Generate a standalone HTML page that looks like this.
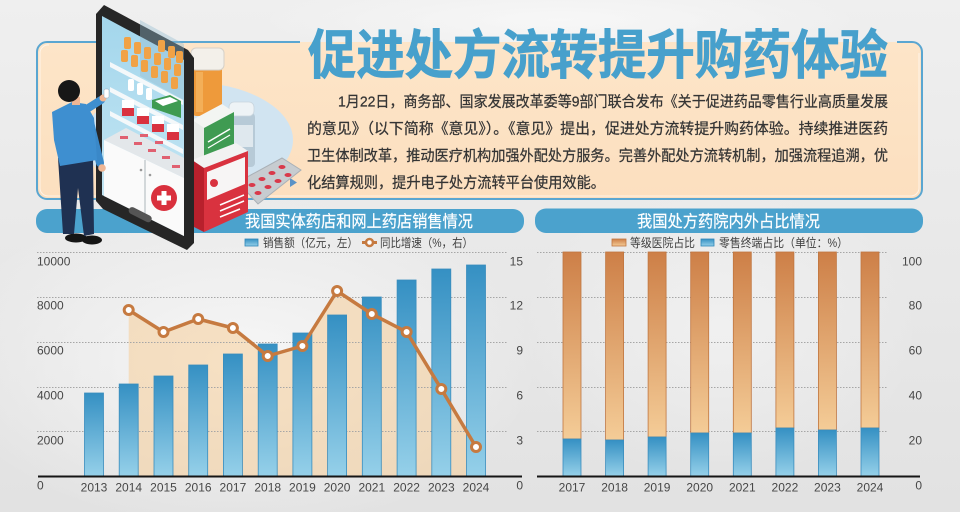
<!DOCTYPE html>
<html><head><meta charset="utf-8">
<style>
html,body{margin:0;padding:0;width:960px;height:512px;overflow:hidden;background:#e8e8e8;}
svg{display:block;}
.cn{font-family:"Liberation Sans","Noto Sans CJK SC",sans-serif;}
.num{font-family:"Liberation Sans",sans-serif;font-size:12px;fill:#474747;}
</style></head><body>
<svg width="960" height="512" viewBox="0 0 960 512" xmlns="http://www.w3.org/2000/svg">
<defs>
 <linearGradient id="bg" x1="0" y1="0" x2="0" y2="1">
   <stop offset="0" stop-color="#efefef"/>
   <stop offset="1" stop-color="#e2e2e2"/>
 </linearGradient>
 <radialGradient id="glow2" cx="0.5" cy="0.5" r="0.5">
   <stop offset="0" stop-color="#f8f8f8" stop-opacity="0.9"/>
   <stop offset="1" stop-color="#f8f8f8" stop-opacity="0"/>
 </radialGradient>
 <linearGradient id="peach" x1="0" y1="0" x2="0" y2="1">
   <stop offset="0" stop-color="#fde5c8"/>
   <stop offset="1" stop-color="#fcdfbf"/>
 </linearGradient>
 <linearGradient id="blueBar" x1="0" y1="0" x2="0" y2="1">
   <stop offset="0" stop-color="#3590c3"/>
   <stop offset="1" stop-color="#95d0e9"/>
 </linearGradient>
 <linearGradient id="orangeBar" x1="0" y1="0" x2="0" y2="1">
   <stop offset="0" stop-color="#cd7f47"/>
   <stop offset="1" stop-color="#f4cc97"/>
 </linearGradient>
 <linearGradient id="screen" x1="0" y1="0" x2="0" y2="1">
   <stop offset="0" stop-color="#a3d6ec"/>
   <stop offset="1" stop-color="#c9e8f4"/>
 </linearGradient>
</defs>

<!-- background -->
<rect x="0" y="0" width="960" height="512" fill="url(#bg)"/>
<ellipse cx="240" cy="360" rx="300" ry="170" fill="url(#glow2)"/>
<ellipse cx="560" cy="20" rx="300" ry="40" fill="url(#glow2)"/>
<ellipse cx="720" cy="330" rx="200" ry="150" fill="url(#glow2)" opacity="0.6"/>

<!-- top box -->
<rect x="37" y="42" width="885" height="157" rx="10" fill="url(#peach)"/>
<path d="M300,42 L47,42 A10,10 0 0 0 37,52 L37,189 A10,10 0 0 0 47,199 L912,199 A10,10 0 0 0 922,189 L922,52 A10,10 0 0 0 912,42 L897,42" fill="none" stroke="#5aa6d1" stroke-width="2"/>
<path d="M49,45 A8,8 0 0 0 40,53 L40,188 A8,8 0 0 0 48,196 L911,196 A8,8 0 0 0 919,188 L919,53" fill="none" stroke="#ffffff" stroke-width="1" opacity="0.6"/>

<!-- title -->
<text class="cn" x="308" y="73.5" font-size="53" font-weight="bold" fill="#47a0cc" stroke="#47a0cc" stroke-width="0.8" textLength="580" lengthAdjust="spacingAndGlyphs">促进处方流转提升购药体验</text>

<!-- paragraph -->
<g class="cn" font-size="15" fill="#353535" stroke="#353535" stroke-width="0.25">
<text x="338" y="106.5" textLength="550" lengthAdjust="spacingAndGlyphs">1月22日，商务部、国家发展改革委等9部门联合发布《关于促进药品零售行业高质量发展</text>
<text x="307" y="133.5" textLength="581" lengthAdjust="spacingAndGlyphs">的意见》（以下简称《意见》）。《意见》提出，促进处方流转提升购药体验。持续推进医药</text>
<text x="307" y="160.5" textLength="581" lengthAdjust="spacingAndGlyphs">卫生体制改革，推动医疗机构加强外配处方服务。完善外配处方流转机制，加强流程追溯，优</text>
<text x="307" y="187.5" textLength="298" lengthAdjust="spacingAndGlyphs">化结算规则，提升电子处方流转平台使用效能。</text>
</g>
<path d="M290,178 L297,182.5 L290,187 Z" fill="#5a92c6"/>

<!-- chart header bars -->
<rect x="36" y="209" width="488" height="24" rx="11" fill="#4ba2cd"/>
<rect x="535" y="208.5" width="388" height="24.5" rx="11" fill="#4ba2cd"/>
<text class="cn" x="245" y="227" font-size="16.5" fill="#ffffff" stroke="#ffffff" stroke-width="0.2" textLength="228" lengthAdjust="spacingAndGlyphs">我国实体药店和网上药店销售情况</text>
<text class="cn" x="637" y="227" font-size="16.5" fill="#ffffff" stroke="#ffffff" stroke-width="0.2" textLength="183" lengthAdjust="spacingAndGlyphs">我国处方药院内外占比情况</text>

<!-- illustration -->
<ellipse cx="188" cy="140" rx="105" ry="58" fill="#d1e4f1"/>
<!-- orange bottle -->
<rect x="193" y="66" width="29" height="50" rx="3" fill="#ee9a3b"/>
<rect x="196" y="72" width="7" height="40" fill="#f5b865" opacity="0.7"/>
<rect x="191" y="48" width="33" height="22" rx="5" fill="#f3f0ea" stroke="#d5d0c8" stroke-width="1"/>
<!-- small bottle -->
<rect x="228" y="113" width="27" height="54" rx="4" fill="#b7cad7"/>
<rect x="229" y="102" width="25" height="14" rx="5" fill="#eef3f6" stroke="#c9d5de" stroke-width="0.8"/>
<rect x="231" y="125" width="22" height="22" fill="#dfe8ee"/>
<!-- green box -->
<polygon points="192,120 222,104 234,112 204,128" fill="#f3f5f2"/>
<polygon points="192,120 204,128 204,168 192,160" fill="#e8ebe8"/>
<polygon points="204,128 234,112 234,150 204,168" fill="#3f9b52"/>
<line x1="208" y1="142" x2="230" y2="129" stroke="#ffffff" stroke-width="1.5"/>
<line x1="208" y1="148" x2="230" y2="135" stroke="#ffffff" stroke-width="1.2"/>
<!-- blister -->
<polygon points="238,182 282,158 301,170 258,204" fill="#c7ccd0" stroke="#a9b0b6" stroke-width="1"/>
<g fill="#d9394a">
<ellipse cx="252" cy="185" rx="3.5" ry="2"/><ellipse cx="262" cy="179" rx="3.5" ry="2"/><ellipse cx="272" cy="173" rx="3.5" ry="2"/><ellipse cx="282" cy="167" rx="3.5" ry="2"/>
<ellipse cx="258" cy="193" rx="3.5" ry="2"/><ellipse cx="268" cy="187" rx="3.5" ry="2"/><ellipse cx="278" cy="181" rx="3.5" ry="2"/><ellipse cx="288" cy="175" rx="3.5" ry="2"/>
</g>
<!-- red box -->
<polygon points="192,160 236,143 248,151 204,168" fill="#f2f2f2"/>
<polygon points="192,160 204,168 204,232 192,226" fill="#b8202c"/>
<polygon points="204,168 248,151 248,212 204,232" fill="#d9323f"/>
<polygon points="207,172 245,157 245,184 207,200" fill="#f7f5f5"/>
<circle cx="214" cy="183" r="4" fill="#d9323f"/>
<line x1="220" y1="205" x2="244" y2="195" stroke="#ffffff" stroke-width="1.5"/>
<line x1="220" y1="211" x2="244" y2="201" stroke="#ffffff" stroke-width="1.5"/>
<line x1="220" y1="217" x2="240" y2="209" stroke="#ffffff" stroke-width="1.5"/>

<!-- phone -->
<polygon points="96,14 104,5 188,50 194,58 194,243 187,250 103,209 96,201" fill="#262626"/>
<polygon points="102,16 184,60 184,236 102,195" fill="url(#screen)"/>
<polygon points="140,20 184,44 184,100 140,76" fill="#93bccf" opacity="0.4"/>
<!-- bottles top -->
<g fill="#f0a246">
<rect x="121" y="50" width="7" height="12" rx="2"/><rect x="131" y="55" width="7" height="12" rx="2"/><rect x="141" y="60" width="7" height="12" rx="2"/><rect x="151" y="66" width="7" height="12" rx="2"/><rect x="161" y="71" width="7" height="12" rx="2"/><rect x="171" y="77" width="7" height="12" rx="2"/>
<rect x="124" y="37" width="7" height="12" rx="2"/><rect x="134" y="42" width="7" height="12" rx="2"/><rect x="144" y="47" width="7" height="12" rx="2"/><rect x="154" y="53" width="7" height="12" rx="2"/><rect x="164" y="58" width="7" height="12" rx="2"/><rect x="174" y="64" width="7" height="12" rx="2"/>
<rect x="158" y="40" width="7" height="12" rx="2"/><rect x="168" y="46" width="7" height="12" rx="2"/><rect x="176" y="51" width="7" height="12" rx="2"/>
</g>
<!-- shelves -->
<polygon points="110,62 183,100 183,105 110,67" fill="#f4f8fa"/>
<polygon points="110,87 183,125 183,130 110,92" fill="#f4f8fa"/>
<polygon points="110,111 183,149 183,154 110,116" fill="#f4f8fa"/>
<!-- shelf 2 items -->
<rect x="128" y="79" width="6" height="12" rx="2" fill="#ffffff"/><rect x="137" y="83" width="6" height="12" rx="2" fill="#ffffff"/><rect x="146" y="88" width="6" height="12" rx="2" fill="#ffffff"/>
<polygon points="152,100 170,95 181,101 181,118 152,108" fill="#3f9b52"/>
<polygon points="155,101 170,97 178,101 163,106" fill="#ffffff"/>
<!-- shelf 3 items -->
<g>
<rect x="122" y="100" width="12" height="15" fill="#ffffff"/><rect x="122" y="108" width="12" height="8" fill="#d9323f"/>
<rect x="137" y="108" width="12" height="15" fill="#ffffff"/><rect x="137" y="116" width="12" height="8" fill="#d9323f"/>
<rect x="152" y="116" width="12" height="15" fill="#ffffff"/><rect x="152" y="124" width="12" height="8" fill="#d9323f"/>
<rect x="167" y="124" width="12" height="15" fill="#ffffff"/><rect x="167" y="132" width="12" height="8" fill="#d9323f"/>
</g>
<!-- cabinet -->
<polygon points="104,140 126,128 184,158 184,178" fill="#e3e7ea"/>
<polygon points="104,140 184,178 184,236 104,196" fill="#fafafa"/>
<line x1="145" y1="160" x2="145" y2="215" stroke="#b9c0c5" stroke-width="1.2"/>
<circle cx="141" cy="170" r="1.3" fill="#999"/><circle cx="150" cy="175" r="1.3" fill="#999"/>
<g fill="#e06070">
<rect x="120" y="136" width="8" height="3"/><rect x="134" y="142" width="8" height="3"/><rect x="148" y="149" width="8" height="3"/><rect x="162" y="156" width="8" height="3"/><rect x="172" y="165" width="8" height="3"/><rect x="140" y="134" width="8" height="3"/><rect x="155" y="141" width="8" height="3"/>
</g>
<circle cx="164" cy="198" r="13" fill="#d9303d"/>
<rect x="157" y="195.5" width="14" height="5" fill="#ffffff"/>
<rect x="161.5" y="191" width="5" height="14" fill="#ffffff"/>
<rect x="128" y="211" width="25" height="7" rx="3.5" fill="#555555" transform="rotate(27 140 214)"/>

<!-- person -->
<ellipse cx="76" cy="238" rx="11" ry="4.5" fill="#151515"/>
<ellipse cx="92" cy="240" rx="10" ry="4.5" fill="#151515"/>
<polygon points="58,158 93,158 94,234 84,236 78,188 74,234 63,234" fill="#1f3152"/>
<line x1="82" y1="112" x2="101" y2="100" stroke="#3e8fd0" stroke-width="8" stroke-linecap="round"/>
<line x1="90" y1="122" x2="100" y2="163" stroke="#3a88c8" stroke-width="8" stroke-linecap="round"/>
<polygon points="52,112 72,102 86,104 94,118 97,160 60,166 54,140" fill="#3e8fd0"/>
<circle cx="103" cy="98" r="3.5" fill="#efb694"/>
<rect x="104" y="89" width="5" height="9" rx="1.5" fill="#ffffff" stroke="#9ab" stroke-width="0.5"/>
<circle cx="102" cy="168" r="3.8" fill="#efb694"/>
<rect x="72" y="97" width="8" height="8" fill="#efb694"/>
<circle cx="69" cy="91" r="11" fill="#171717"/>

<!-- legends -->
<rect x="245" y="239" width="13" height="7" fill="url(#blueBar)" stroke="#2f86b8" stroke-width="0.8"/>
<text class="cn" x="263" y="247" font-size="12" fill="#3f3f3f" textLength="95" lengthAdjust="spacingAndGlyphs">销售额（亿元，左）</text>
<line x1="362" y1="242.5" x2="377" y2="242.5" stroke="#c67a40" stroke-width="3"/>
<circle cx="369.5" cy="242.5" r="3.5" fill="#ffffff" stroke="#c67a40" stroke-width="2.5"/>
<text class="cn" x="380" y="247" font-size="12" fill="#3f3f3f" textLength="93" lengthAdjust="spacingAndGlyphs">同比增速（%，右）</text>

<rect x="612" y="239" width="14" height="7" fill="url(#orangeBar)" stroke="#c07640" stroke-width="0.8"/>
<text class="cn" x="630" y="247" font-size="12" fill="#3f3f3f" textLength="65" lengthAdjust="spacingAndGlyphs">等级医院占比</text>
<rect x="701" y="239" width="13" height="7" fill="url(#blueBar)" stroke="#2f86b8" stroke-width="0.8"/>
<text class="cn" x="719" y="247" font-size="12" fill="#3f3f3f" textLength="129" lengthAdjust="spacingAndGlyphs">零售终端占比（单位：%）</text>

<!-- LEFT CHART -->
<polygon points="128.7,310 163.5,332 198.2,319 232.9,328 267.7,356 302.4,346 337.1,291 371.8,314 406.6,332 441.3,389 476,447 476,476 128.7,476" fill="#f6cd99" opacity="0.55"/>
<g stroke="#a6a6a6" stroke-width="1" stroke-dasharray="1.5 1.5">
<line x1="37" y1="252.5" x2="507" y2="252.5"/>
<line x1="37" y1="297.5" x2="507" y2="297.5"/>
<line x1="37" y1="342.5" x2="507" y2="342.5"/>
<line x1="37" y1="387.5" x2="507" y2="387.5"/>
<line x1="37" y1="431.5" x2="507" y2="431.5"/>
<line x1="537" y1="252.5" x2="888" y2="252.5"/>
<line x1="537" y1="297.5" x2="888" y2="297.5"/>
<line x1="537" y1="342.5" x2="888" y2="342.5"/>
<line x1="537" y1="387.5" x2="888" y2="387.5"/>
<line x1="537" y1="431.5" x2="888" y2="431.5"/>
</g>
<g fill="url(#blueBar)" stroke="#3a8dbd" stroke-width="0.8">
<rect x="84.5" y="393" width="19" height="83"/>
<rect x="119.2" y="384" width="19" height="92"/>
<rect x="154" y="376" width="19" height="100"/>
<rect x="188.7" y="365" width="19" height="111"/>
<rect x="223.4" y="354" width="19" height="122"/>
<rect x="258.2" y="344" width="19" height="132"/>
<rect x="292.9" y="333" width="19" height="143"/>
<rect x="327.6" y="315" width="19" height="161"/>
<rect x="362.3" y="297" width="19" height="179"/>
<rect x="397.1" y="280" width="19" height="196"/>
<rect x="431.8" y="269" width="19" height="207"/>
<rect x="466.5" y="265" width="19" height="211"/>
</g>
<polyline points="128.7,310 163.5,332 198.2,319 232.9,328 267.7,356 302.4,346 337.1,291 371.8,314 406.6,332 441.3,389 476,447" fill="none" stroke="#c67a40" stroke-width="3.5" stroke-linejoin="round"/>
<g fill="#ffffff" stroke="#c67a40" stroke-width="3">
<circle cx="128.7" cy="310" r="4.5"/><circle cx="163.5" cy="332" r="4.5"/><circle cx="198.2" cy="319" r="4.5"/><circle cx="232.9" cy="328" r="4.5"/><circle cx="267.7" cy="356" r="4.5"/><circle cx="302.4" cy="346" r="4.5"/><circle cx="337.1" cy="291" r="4.5"/><circle cx="371.8" cy="314" r="4.5"/><circle cx="406.6" cy="332" r="4.5"/><circle cx="441.3" cy="389" r="4.5"/><circle cx="476" cy="447" r="4.5"/>
</g>
<line x1="38" y1="476.5" x2="522" y2="476.5" stroke="#151515" stroke-width="2"/>
<g class="num">
<text x="37" y="265.3">10000</text>
<text x="37" y="309.3">8000</text>
<text x="37" y="354.3">6000</text>
<text x="37" y="399.3">4000</text>
<text x="37" y="444.3">2000</text>
<text x="37" y="489.3">0</text>
</g>
<g class="num" text-anchor="end">
<text x="523" y="265.3">15</text>
<text x="523" y="309.3">12</text>
<text x="523" y="354.3">9</text>
<text x="523" y="399.3">6</text>
<text x="523" y="444.3">3</text>
<text x="523" y="489.3">0</text>
<text x="922" y="265.3">100</text>
<text x="922" y="309.3">80</text>
<text x="922" y="354.3">60</text>
<text x="922" y="399.3">40</text>
<text x="922" y="444.3">20</text>
<text x="922" y="489.3">0</text>
</g>
<g class="num" text-anchor="middle">
<text x="94" y="491.3">2013</text><text x="128.7" y="491.3">2014</text><text x="163.5" y="491.3">2015</text><text x="198.2" y="491.3">2016</text><text x="232.9" y="491.3">2017</text><text x="267.7" y="491.3">2018</text><text x="302.4" y="491.3">2019</text><text x="337.1" y="491.3">2020</text><text x="371.8" y="491.3">2021</text><text x="406.6" y="491.3">2022</text><text x="441.3" y="491.3">2023</text><text x="476" y="491.3">2024</text>
<text x="572" y="491.3">2017</text><text x="614.6" y="491.3">2018</text><text x="657.1" y="491.3">2019</text><text x="699.7" y="491.3">2020</text><text x="742.3" y="491.3">2021</text><text x="784.9" y="491.3">2022</text><text x="827.4" y="491.3">2023</text><text x="870" y="491.3">2024</text>
</g>

<!-- RIGHT CHART -->
<g stroke="#c07640" stroke-width="0.8">
<rect x="563" y="252" width="18" height="187" fill="url(#orangeBar)"/>
<rect x="605.6" y="252" width="18" height="188" fill="url(#orangeBar)"/>
<rect x="648.1" y="252" width="18" height="185" fill="url(#orangeBar)"/>
<rect x="690.7" y="252" width="18" height="181" fill="url(#orangeBar)"/>
<rect x="733.3" y="252" width="18" height="181" fill="url(#orangeBar)"/>
<rect x="775.9" y="252" width="18" height="176" fill="url(#orangeBar)"/>
<rect x="818.4" y="252" width="18" height="178" fill="url(#orangeBar)"/>
<rect x="861" y="252" width="18" height="176" fill="url(#orangeBar)"/>
</g>
<g stroke="#3a8dbd" stroke-width="0.8" fill="url(#blueBar)">
<rect x="563" y="439" width="18" height="37"/>
<rect x="605.6" y="440" width="18" height="36"/>
<rect x="648.1" y="437" width="18" height="39"/>
<rect x="690.7" y="433" width="18" height="43"/>
<rect x="733.3" y="433" width="18" height="43"/>
<rect x="775.9" y="428" width="18" height="48"/>
<rect x="818.4" y="430" width="18" height="46"/>
<rect x="861" y="428" width="18" height="48"/>
</g>
<line x1="537" y1="476.5" x2="920" y2="476.5" stroke="#151515" stroke-width="2"/>
</svg>
</body></html>
